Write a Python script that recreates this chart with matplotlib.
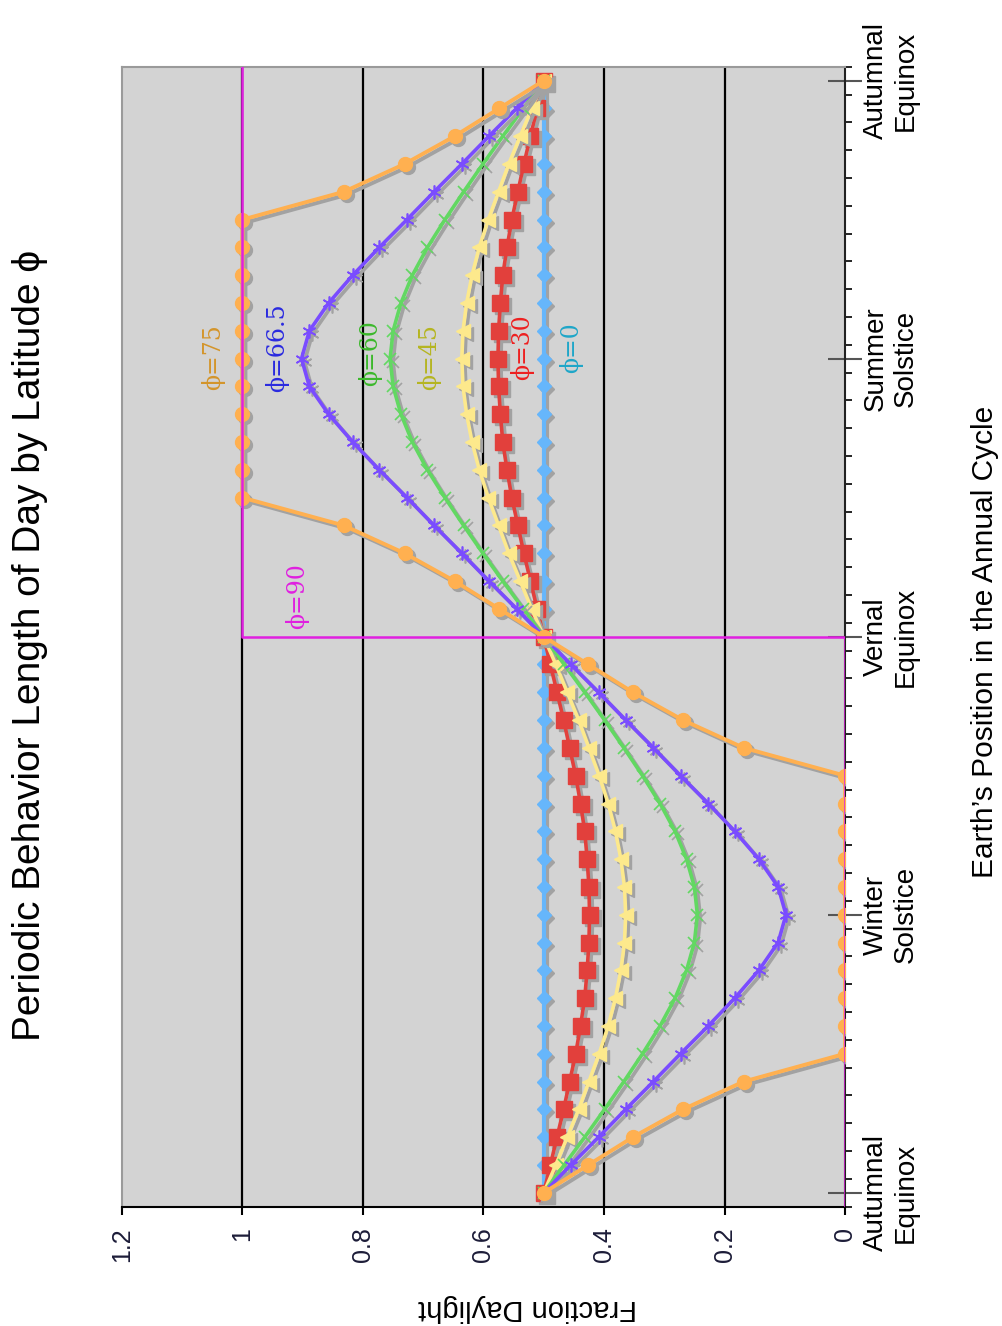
import matplotlib
matplotlib.use("Agg")
import matplotlib.pyplot as plt
import matplotlib.transforms as mtransforms
import numpy as np

# ---------------- data ----------------
positions = list(range(41))  # 40 steps through the annual cycle
cycle_ticks = [0, 10, 20, 30, 40]
cycle_labels = ["Autumnal\nEquinox", "Winter\nSolstice", "Vernal\nEquinox",
                "Summer\nSolstice", "Autumnal\nEquinox"]
value_ticks = [0, 0.2, 0.4, 0.6, 0.8, 1.0, 1.2]
value_labels = ["0", "0.2", "0.4", "0.6", "0.8", "1", "1.2"]

phi0 = [0.5, 0.5, 0.5, 0.5, 0.5, 0.5, 0.5, 0.5, 0.5, 0.5, 0.5,
        0.5, 0.5, 0.5, 0.5, 0.5, 0.5, 0.5, 0.5, 0.5, 0.5,
        0.5, 0.5, 0.5, 0.5, 0.5, 0.5, 0.5, 0.5, 0.5, 0.5,
        0.5, 0.5, 0.5, 0.5, 0.5, 0.5, 0.5, 0.5, 0.5, 0.5]
phi30 = [.500, .489, .478, .467, .457, .447, .439, .432, .428, .425, .424,
         .425, .428, .432, .439, .447, .457, .467, .478, .489, .500,
         .511, .522, .533, .543, .553, .561, .568, .572, .575, .576,
         .575, .572, .568, .561, .553, .543, .533, .522, .511, .500]
phi45 = [.500, .480, .461, .442, .425, .408, .393, .381, .372, .366, .364,
         .366, .372, .381, .393, .408, .425, .442, .461, .480, .500,
         .520, .539, .558, .575, .592, .607, .619, .628, .634, .636,
         .634, .628, .619, .607, .592, .575, .558, .539, .520, .500]
phi60 = [.500, .466, .432, .399, .367, .336, .307, .282, .263, .250, .245,
         .250, .263, .282, .307, .336, .367, .399, .432, .466, .500,
         .534, .568, .601, .633, .664, .693, .718, .737, .750, .755,
         .750, .737, .718, .693, .664, .633, .601, .568, .534, .500]
phi665 = [.500, .455, .409, .364, .318, .273, .227, .183, .143, .111, .098,
          .111, .143, .183, .227, .273, .318, .364, .409, .455, .500,
          .545, .591, .636, .682, .727, .773, .817, .857, .889, .902,
          .889, .857, .817, .773, .727, .682, .636, .591, .545, .500]
phi75 = [.500, .426, .352, .269, .168, 0, 0, 0, 0, 0, 0,
         0, 0, 0, 0, 0, .168, .269, .352, .426, .500,
         .574, .648, .731, .832, 1, 1, 1, 1, 1, 1,
         1, 1, 1, 1, 1, .832, .731, .648, .574, .500]
phi90_pos = [-0.5, 20, 20, 40.5]
phi90_val = [0, 0, 1, 1]

label_text = ["\u03d5=0", "\u03d5=30", "\u03d5=45", "\u03d5=60", "\u03d5=66.5", "\u03d5=75", "\u03d5=90"]
label_val = [0.455, 0.536, 0.690, 0.788, 0.942, 1.049, 0.910]
label_pos = [30.4, 30.4, 30.05, 30.2, 30.4, 30.05, 21.45]
label_col = ["#1ea6c8", "#ee2020", "#b5b521", "#3cb82c", "#2a2ae0", "#d4952b", "#e020e0"]

# ---------------- figure ----------------
fig = plt.figure(figsize=(10.03, 13.26), dpi=100)
ax = fig.add_axes([0.1216, 0.0900, 0.7209, 0.8597])
ax.set_facecolor("#d3d3d3")
ax.set_xlim(1.2, 0)
ax.set_ylim(-0.5, 40.5)

for v in value_ticks[1:-1]:
    ax.axvline(v, color="black", lw=1.6, zorder=1)

shadow = mtransforms.offset_copy(ax.transData, fig=fig, x=3, y=-3, units="dots")
shade = "#a2a2a2"

styles = [
    (phi0, "#66b6fb", "D", 7, 1.0, 3.0),
    (phi30, "#e2403c", "s", 11, 1.0, 2.6),
    (phi45, "#fde98c", "<", 10, 1.0, 2.6),
    (phi60, "#62d862", "x", 8, 1.2, 2.6),
    (phi665, "#7a4cff", (6, 2, 0), 10, 1.2, 2.6),
    (phi75, "#ffb050", "o", 10, 1.0, 2.8),
]
z = 3
for vals, col, mk, ms, mew, lw in styles:
    ax.plot(vals, positions, color=shade, lw=lw, marker=mk, ms=ms, mfc=shade,
            mec=shade, mew=mew, transform=shadow, zorder=z)
    ax.plot(vals, positions, color=col, lw=lw, marker=mk, ms=ms, mfc=col,
            mec=col, mew=mew, zorder=z + 0.5)
    z += 1

ax.plot(phi90_val, phi90_pos, color="#e020e0", lw=1.8, zorder=z + 1)

for t, v, p, c in zip(label_text, label_val, label_pos, label_col):
    ax.text(v, p, t, rotation=90, ha="center", va="center", color=c,
            fontsize=17, family=["DejaVu Serif"], zorder=20)

# axes styling
for s in ["left", "top"]:
    ax.spines[s].set_color("#9a9a9a")
    ax.spines[s].set_linewidth(1.5)
ax.spines["right"].set_color("#222222")
ax.spines["right"].set_linewidth(1.5)
ax.spines["bottom"].set_color("black")
ax.spines["bottom"].set_linewidth(1.5)

ax.yaxis.tick_right()
ax.set_yticks(cycle_ticks)
ax.set_yticklabels(cycle_labels)
ax.set_yticks(np.arange(-0.5, 40.6, 1.0), minor=True)
ax.tick_params(axis="y", which="major", direction="inout", length=24, width=1.5,
               color="#555555", pad=1, labelsize=20)
ax.tick_params(axis="y", which="minor", direction="out", length=5, width=1.2,
               color="black")
for lbl in ax.get_yticklabels():
    lbl.set_rotation(90)
    lbl.set_va("center")
    lbl.set_ha("left")
    lbl.set_multialignment("center")
    lbl.set_family(["Liberation Sans", "DejaVu Sans"])

ax.set_xticks(value_ticks)
ax.set_xticklabels(value_labels)
ax.tick_params(axis="x", which="major", direction="out", length=6, width=1.5,
               color="black", pad=9, labelsize=18, labelcolor="#1c1c38")
for lbl in ax.get_xticklabels():
    lbl.set_rotation(90)
    lbl.set_va("top")
    lbl.set_ha("center")
    lbl.set_family(["Liberation Sans", "DejaVu Sans"])

fig.text(0.5264, 0.0136, "Fraction Daylight", rotation=180, ha="center", va="center",
         fontsize=21, family=["Liberation Sans", "DejaVu Sans"])
fig.text(0.982, 0.5158, "Earth\u2019s Position in the Annual Cycle", rotation=90,
         ha="center", va="center", fontsize=21.5, family=["Liberation Sans", "DejaVu Sans"])
fig.text(0.030, 0.5136, "Periodic Behavior Length of Day by Latitude \u03d5", rotation=90,
         ha="center", va="center", fontsize=28, family=["Liberation Sans", "DejaVu Sans"])

fig.savefig("out.png", dpi=100)
